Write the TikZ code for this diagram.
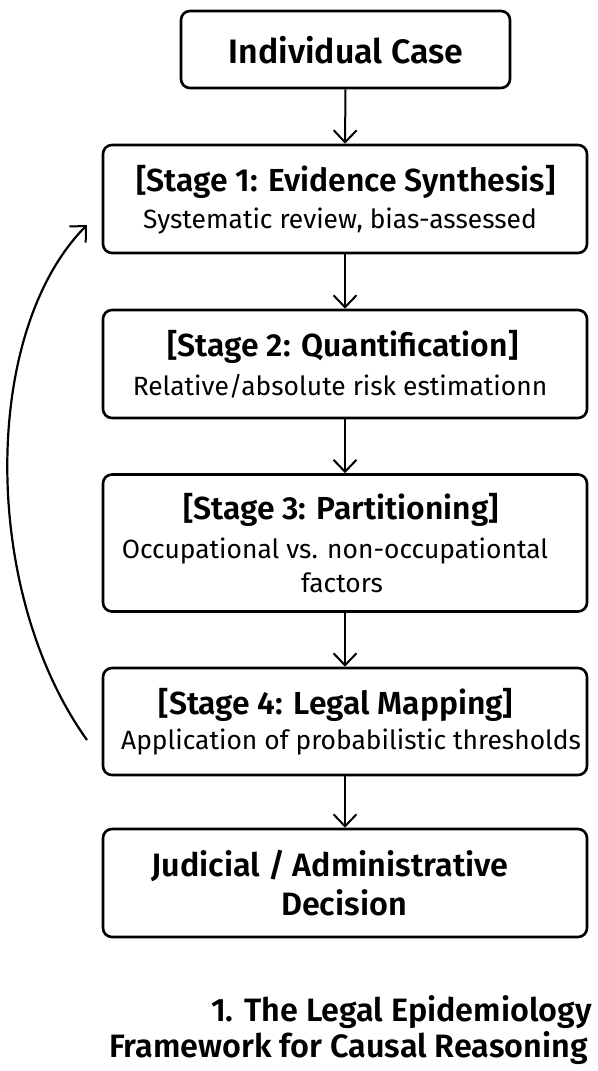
\documentclass[tikz,border=0pt]{standalone}
\usepackage{fontspec}
\setmainfont{Fira Sans}[BoldFont={Fira Sans SemiBold}]
\usetikzlibrary{arrows.meta,calc}
\tikzset{
  box/.style={draw=black, line width=2.6bp, rounded corners=9bp, minimum width=484bp, inner sep=0pt},
  headtxt/.style={font=\fontsize{32}{36}\selectfont\bfseries, inner sep=0pt, anchor=center},
  bigtxt/.style={font=\fontsize{32.5}{37}\selectfont\bfseries, inner sep=0pt, anchor=center},
  subtxt/.style={font=\fontsize{26.5}{31}\selectfont, inner sep=0pt, anchor=center},
  flow/.style={line width=2bp, -{Straight Barb[length=12bp,width=23bp,line width=2bp]}},
}
\begin{document}
\begin{tikzpicture}[x=1bp,y=-1bp]
\useasboundingbox (0,0) rectangle (598,1071);
% boxes
\node[box, minimum width=329bp, minimum height=77bp] (ic) at (345.5,49.5) {};
\node[box, minimum height=108bp] (s1) at (345,199) {};
\node[box, minimum height=108bp] (s2) at (345,364) {};
\node[box, minimum height=137bp] (s3) at (345,543) {};
\node[box, minimum height=107bp] (s4) at (345,721.5) {};
\node[box, minimum height=108bp] (jd) at (345,883) {};
% texts
\node[headtxt, font=\fontsize{34}{38}\selectfont\bfseries] (ict) at (346,50) {Individual Case};
\node[headtxt] (s1h) at (346,182) {[Stage 1: Evidence Synthesis]};
\node[subtxt] (s1s) at (340,221) {Systematic review, bias-assessed};
\node[headtxt] (s2h) at (343,347) {[Stage 2: Quantification]};
\node[subtxt] (s2s) at (340,386) {Relative/absolute risk estimationn};
\node[headtxt] (s3h) at (341,510) {[Stage 3: Partitioning]};
\node[subtxt] (s3f0) at (335,551) {Occupational vs. non-occupationtal};
\node[subtxt] (s3f) at (342,583) {factors};
\node[headtxt] (s4h) at (336,705) {[Stage 4: Legal Mapping]};
\node[subtxt] (s4s) at (351,742) {Application of probabilistic thresholds};
\node[bigtxt] (jd1) at (330,866) {Judicial / Administrative};
\node[bigtxt] (jd2) at (344,903) {Decision};
\node[bigtxt, anchor=east] (t1) at (592,1012) {1. The Legal Epidemiology};
\node[bigtxt, anchor=east] (t2) at (588,1048) {Framework for Causal Reasoning};
% connectors
\draw[flow] (ic.south) -- (s1.north);
\draw[flow] (s1.south) -- (s2.north);
\draw[flow] (s2.south) -- (s3.north);
\draw[flow] (s3.south) -- (s4.north);
\draw[flow] (s4.south) -- (jd.north);
\coordinate (fbstart) at (87,740);
\coordinate (fbend) at (87,225);
\draw[flow, line width=2.2bp] (fbstart) .. controls (-19,592) and (-19,332) .. (fbend);
\end{tikzpicture}
\end{document}
